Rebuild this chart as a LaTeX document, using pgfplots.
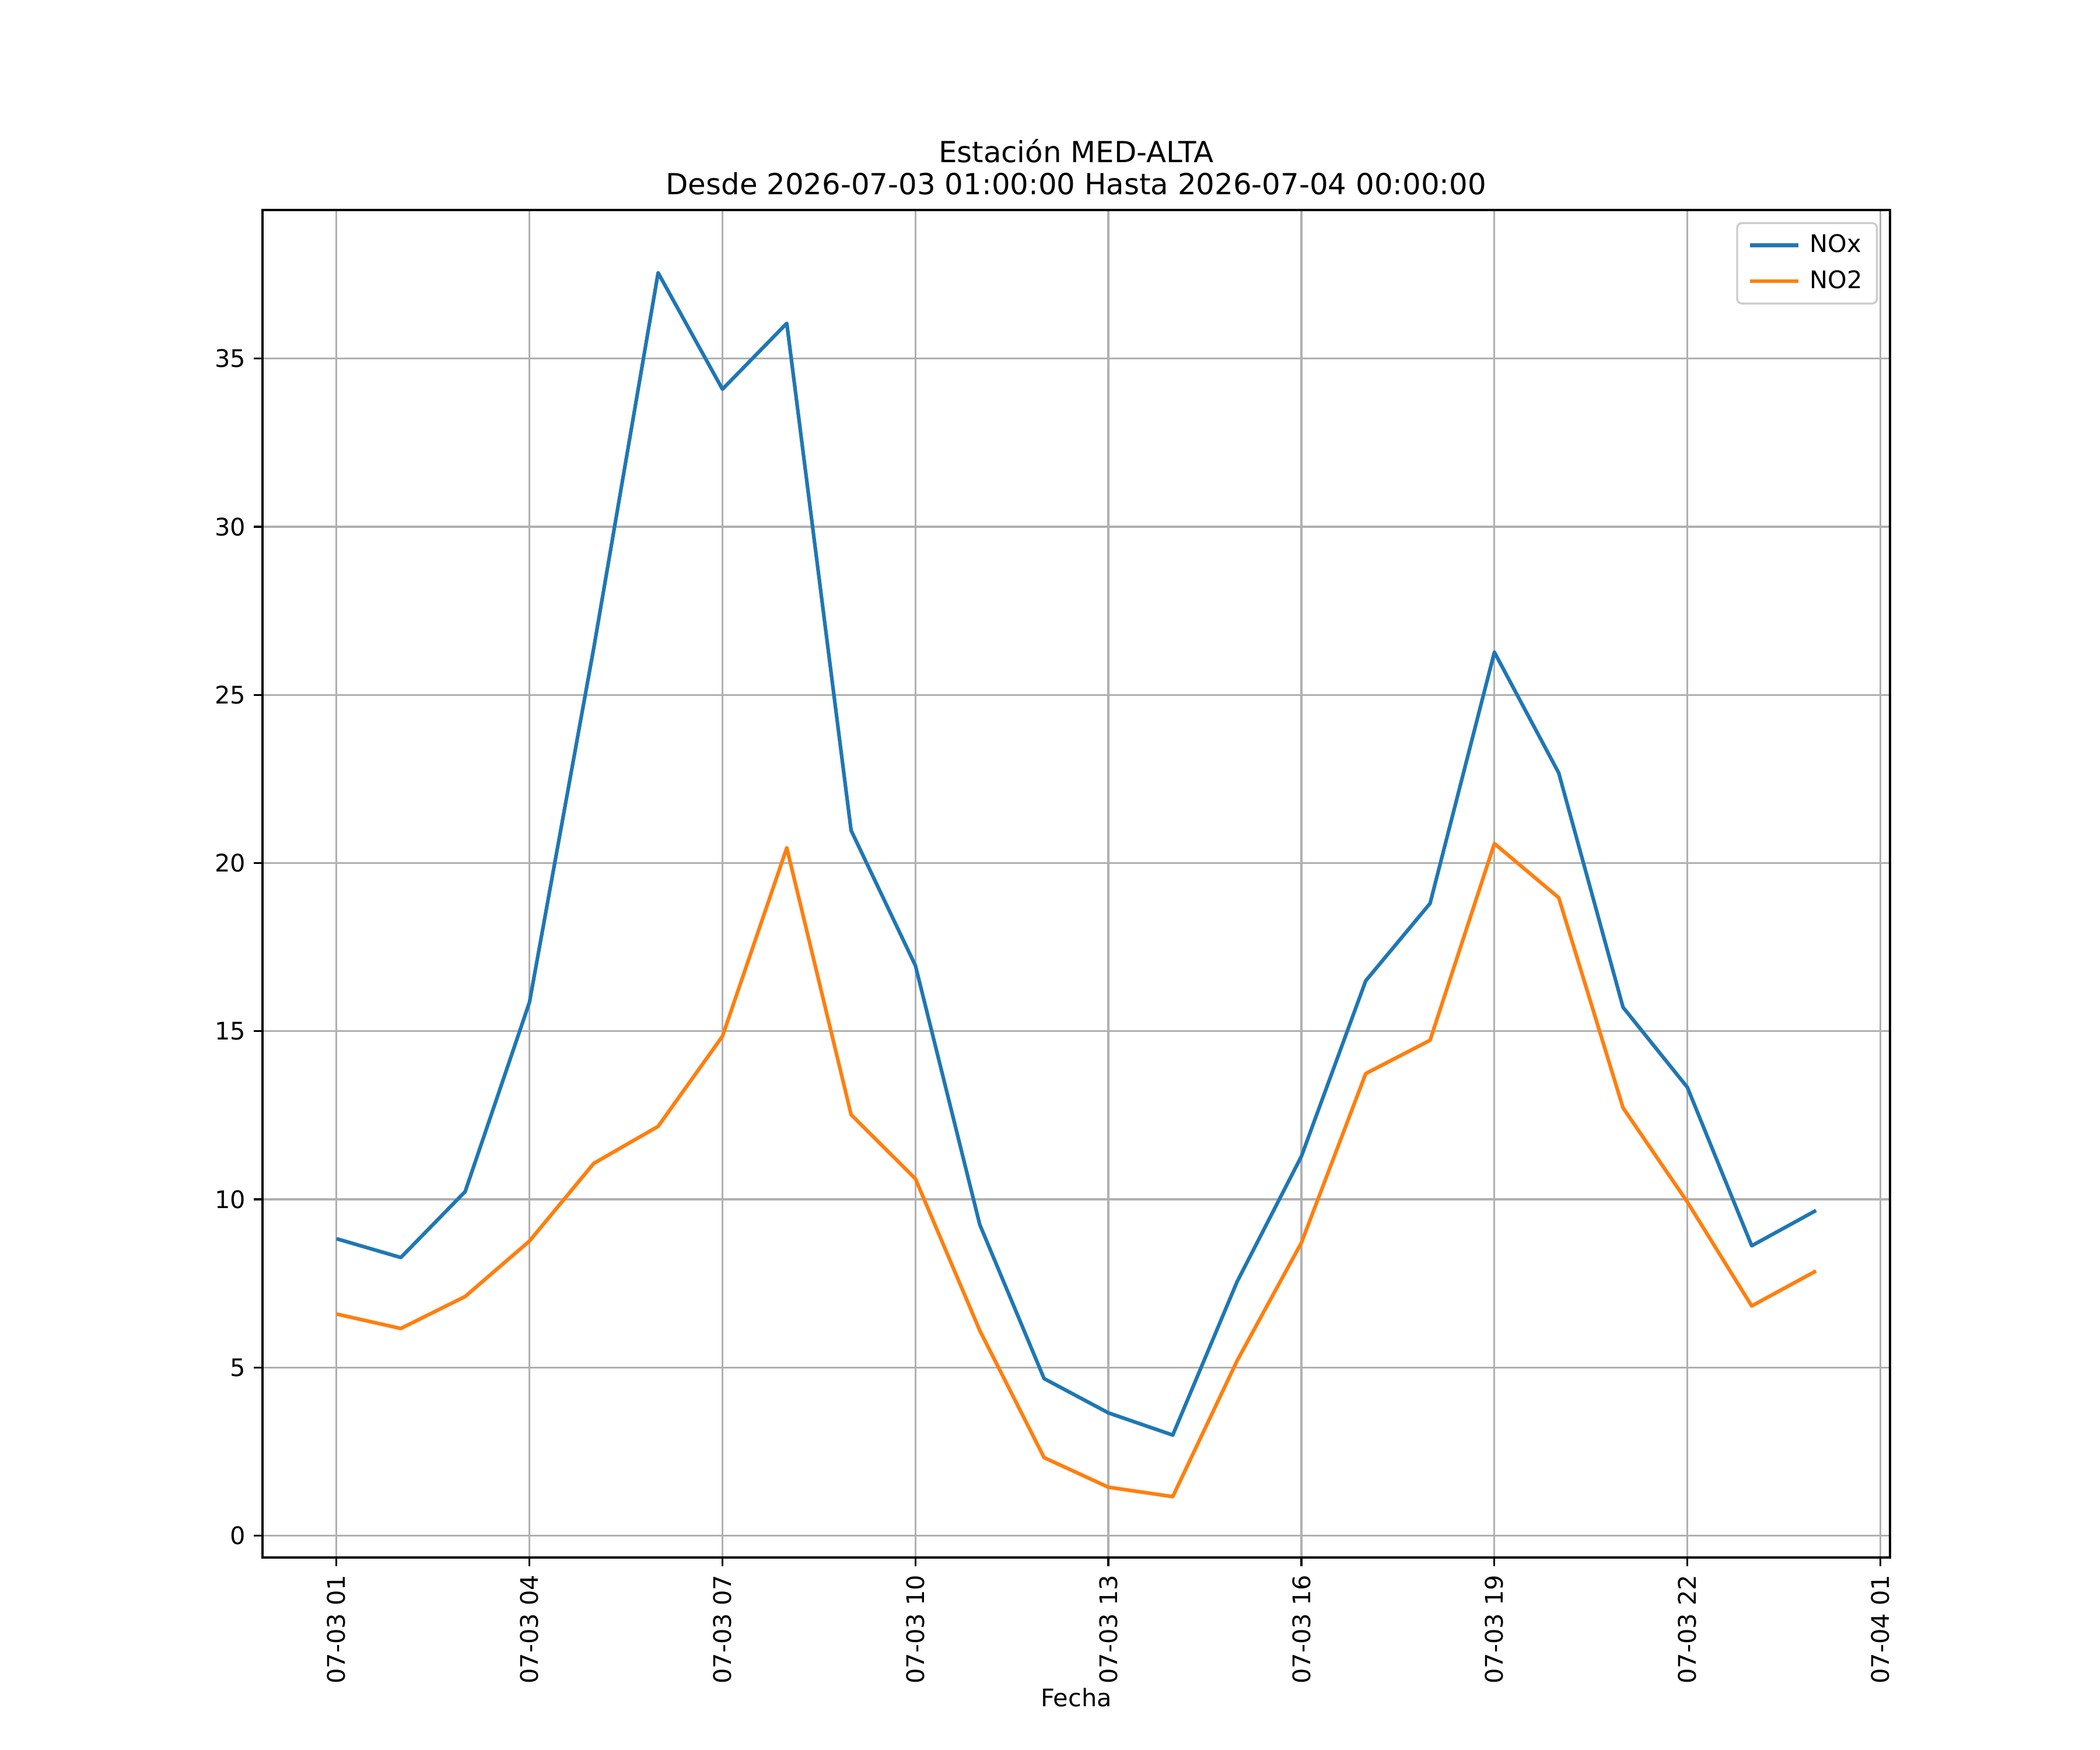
\documentclass[border=0pt]{standalone}
\usepackage{fontspec}
\setmainfont{DejaVu Sans}
\usepackage{pgfplots}
\pgfplotsset{compat=1.18}
\definecolor{mplblue}{HTML}{1F77B4}
\definecolor{mplorange}{HTML}{FF7F0E}
\definecolor{gridgray}{HTML}{B0B0B0}
\definecolor{legendedge}{HTML}{CCCCCC}
\begin{document}
\begin{tikzpicture}
\path[use as bounding box] (0,0) rectangle (12in,10in);
\begin{axis}[
  at={(1.5in,1.1in)}, anchor=south west,
  scale only axis, width=9.3in, height=7.7in,
  xmin=-0.15, xmax=25.15, ymin=-0.65, ymax=39.42,
  xtick={1,4,7,10,13,16,19,22,25},
  xticklabels={07-03 01,07-03 04,07-03 07,07-03 10,07-03 13,07-03 16,07-03 19,07-03 22,07-04 01},
  ytick={0,5,10,15,20,25,30,35},
  /pgf/number format/assume math mode=true,
  tick label style={font=\fontsize{10}{12}\selectfont},
  xticklabel style={rotate=90, anchor=east, inner sep=0pt},
  yticklabel style={anchor=east, inner sep=0pt},
  xticklabel shift=3.5pt, yticklabel shift=3.3pt,
  tick pos=left, tick align=outside, major tick length=3.5pt,
  tick style={black, line width=0.8pt},
  axis line style={black, line width=0.8pt},
  grid=major, grid style={gridgray, line width=0.8pt},
  xlabel={Fecha},
  xlabel style={font=\fontsize{10}{12}\selectfont, inner sep=0pt, yshift=-1.5pt},
  title={Estación MED-ALTA\\Desde 2026-07-03 01:00:00 Hasta 2026-07-04 00:00:00},
  title style={at={(0.5,1)}, anchor=south, inner sep=0pt, align=center, font=\fontsize{12}{13.2}\selectfont},
  legend style={at={(1,1)}, anchor=north east, xshift=-5pt, yshift=-5pt,
    draw=legendedge, line width=0.8pt, rounded corners=2pt, fill=white, fill opacity=0.8, text opacity=1,
    font=\fontsize{10}{12}\selectfont, inner xsep=4.5pt, inner ysep=3.2pt, row sep=3pt,
    nodes={inner sep=1.5pt}},
  legend cell align=left,
  legend image code/.code={\draw[#1, line width=1.5pt] (0pt,0pt) -- (20pt,0pt); \path (22.5pt,0pt);},
]
\addplot[mplblue, line width=1.5pt, line join=round] coordinates {
(1,8.83) (2,8.27) (3,10.23) (4,15.86) (5,26.4) (6,37.55) (7,34.09) (8,36.05)
(9,20.97) (10,16.95) (11,9.25) (12,4.67) (13,3.65) (14,2.99) (15,7.55) (16,11.28)
(17,16.50) (18,18.80) (19,26.27) (20,22.68) (21,15.71) (22,13.33) (23,8.62) (24,9.67)
};
\addlegendentry{NOx}
\addplot[mplorange, line width=1.5pt, line join=round] coordinates {
(1,6.59) (2,6.16) (3,7.11) (4,8.76) (5,11.07) (6,12.17) (7,14.85) (8,20.45)
(9,12.52) (10,10.61) (11,6.10) (12,2.32) (13,1.44) (14,1.16) (15,5.2) (16,8.71)
(17,13.74) (18,14.73) (19,20.58) (20,18.97) (21,12.72) (22,9.92) (23,6.83) (24,7.87)
};
\addlegendentry{NO2}
\end{axis}
\end{tikzpicture}
\end{document}
